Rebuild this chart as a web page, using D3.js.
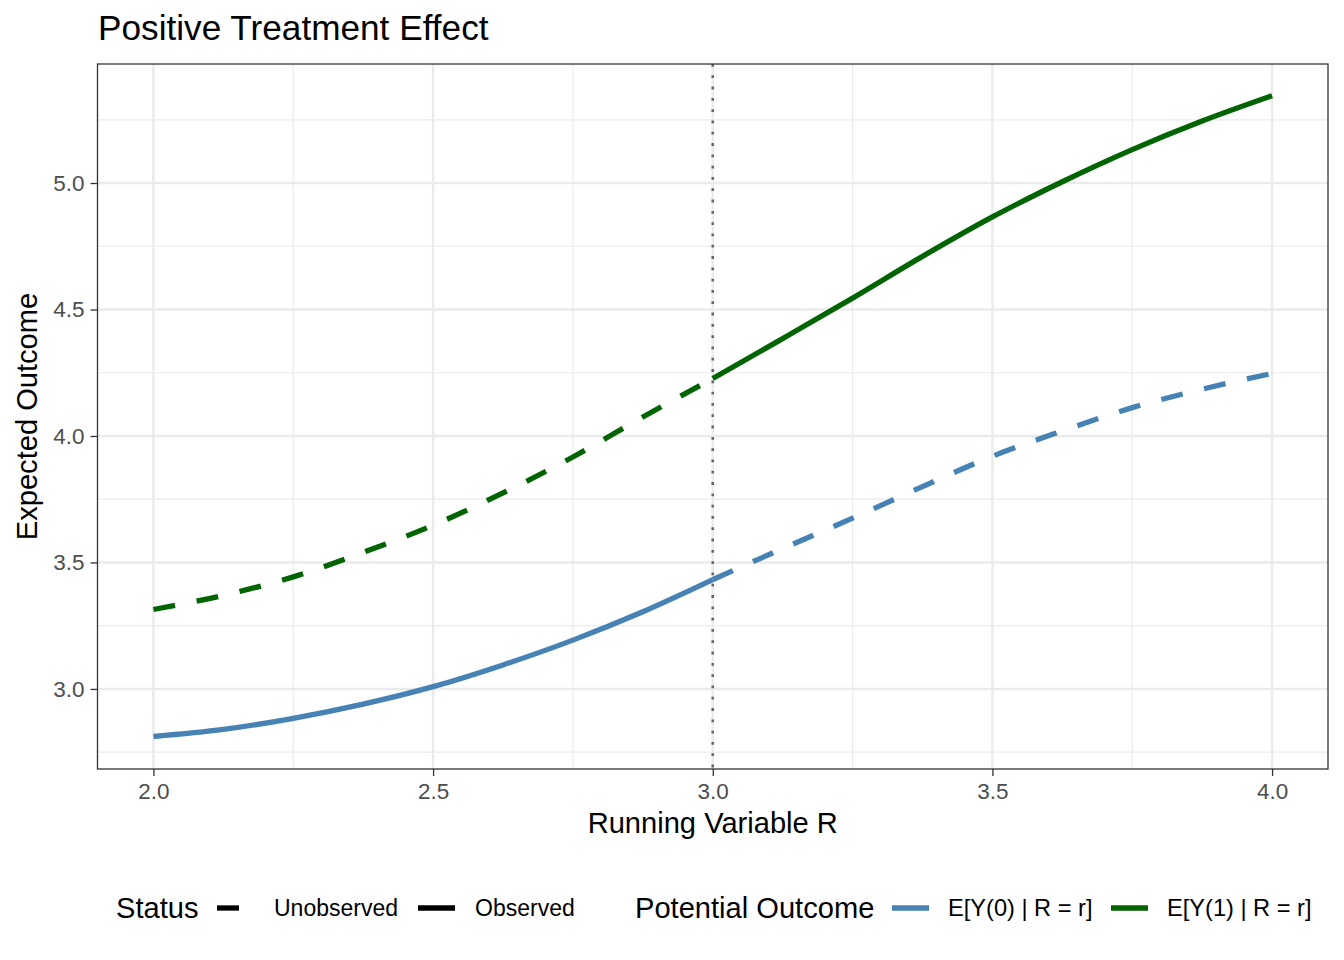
<!DOCTYPE html>
<html>
<head>
<meta charset="utf-8">
<script src="https://cdn.jsdelivr.net/npm/d3@7"></script>
<style>
  body { margin: 0; background: #fff; }
  text { font-family: "Liberation Sans", Arial, Helvetica, sans-serif; }
</style>
</head>
<body>
<div id="chart"></div>
<script>
// values
var rValues  = [2.0, 2.125, 2.25, 2.375, 2.5, 2.625, 2.75, 2.875, 3.0,
                3.125, 3.25, 3.375, 3.5, 3.625, 3.75, 3.875, 4.0]
var y0Values = [2.812, 2.840, 2.884, 2.940, 3.009, 3.095, 3.193, 3.305, 3.432,
                3.555, 3.675, 3.800, 3.920, 4.020, 4.112, 4.185, 4.247]
var y1Values = [3.314, 3.370, 3.443, 3.540, 3.647, 3.775, 3.917, 4.075, 4.227,
                4.385, 4.545, 4.710, 4.866, 5.005, 5.132, 5.245, 5.345]
var cutoff = 3.0
var xTicks = [2.0, 2.5, 3.0, 3.5, 4.0]
var yTicks = [3.0, 3.5, 4.0, 4.5, 5.0]
var outcomeLabels = ["E[Y(0) | R = r]", "E[Y(1) | R = r]"]
var statusLabels = ["Unobserved", "Observed"]

var width = 1344, height = 960
var margin = { top: 64, right: 16, bottom: 191, left: 97.5 }

var svg = d3.select("#chart").append("svg")
  .attr("width", width)
  .attr("height", height)

var x = d3.scaleLinear()
  .domain([1.9, 4.1])
  .range([margin.left, width - margin.right])

var y = d3.scaleLinear()
  .domain([2.6835, 5.4705])
  .range([height - margin.bottom, margin.top])

// grid
var xMinor = [2.25, 2.75, 3.25, 3.75]
var yMinor = [2.75, 3.25, 3.75, 4.25, 4.75, 5.25]

var grid = svg.append("g")
grid.selectAll(".xminor").data(xMinor).enter().append("line")
  .attr("x1", d => x(d)).attr("x2", d => x(d))
  .attr("y1", y.range()[1]).attr("y2", y.range()[0])
  .attr("stroke", "#ebebeb").attr("stroke-width", 1.2)
grid.selectAll(".yminor").data(yMinor).enter().append("line")
  .attr("y1", d => y(d)).attr("y2", d => y(d))
  .attr("x1", x.range()[0]).attr("x2", x.range()[1])
  .attr("stroke", "#ebebeb").attr("stroke-width", 1.2)
grid.selectAll(".xmajor").data(xTicks).enter().append("line")
  .attr("x1", d => x(d)).attr("x2", d => x(d))
  .attr("y1", y.range()[1]).attr("y2", y.range()[0])
  .attr("stroke", "#ebebeb").attr("stroke-width", 2.4)
grid.selectAll(".ymajor").data(yTicks).enter().append("line")
  .attr("y1", d => y(d)).attr("y2", d => y(d))
  .attr("x1", x.range()[0]).attr("x2", x.range()[1])
  .attr("stroke", "#ebebeb").attr("stroke-width", 2.4)

// curves, split at the cutoff
var rows = rValues.map((r, i) => ({ r: r, y0: y0Values[i], y1: y1Values[i] }))
var below = rows.filter(d => d.r <= cutoff)
var above = rows.filter(d => d.r >= cutoff)

var series = [
  { data: below, key: "y0", color: "#4682b4", dashed: false },
  { data: above, key: "y0", color: "#4682b4", dashed: true },
  { data: below, key: "y1", color: "#006400", dashed: true },
  { data: above, key: "y1", color: "#006400", dashed: false }
]

series.forEach(function (s) {
  var line = d3.line()
    .x(d => x(d.r))
    .y(d => y(d[s.key]))
    .curve(d3.curveMonotoneX)
  svg.append("path")
    .datum(s.data)
    .attr("d", line)
    .attr("fill", "none")
    .attr("stroke", s.color)
    .attr("stroke-width", 5.3)
    .attr("stroke-linecap", "butt")
    .attr("stroke-dasharray", s.dashed ? "22,22" : null)
})

// cutoff line
svg.append("line")
  .attr("x1", x(cutoff)).attr("x2", x(cutoff))
  .attr("y1", y.range()[1]).attr("y2", y.range()[0])
  .attr("stroke", "#666")
  .attr("stroke-width", 2.6)
  .attr("stroke-dasharray", "2.8,8.5")

// panel border
svg.append("rect")
  .attr("x", x.range()[0]).attr("y", y.range()[1])
  .attr("width", x.range()[1] - x.range()[0])
  .attr("height", y.range()[0] - y.range()[1])
  .attr("fill", "none")
  .attr("stroke", "#333")
  .attr("stroke-width", 1.3)

// axes
var xAxis = svg.append("g")
  .attr("transform", `translate(0,${y.range()[0]})`)
  .call(d3.axisBottom(x).tickValues(xTicks).tickFormat(d3.format(".1f")).tickSize(7).tickPadding(7))
var yAxis = svg.append("g")
  .attr("transform", `translate(${x.range()[0]},0)`)
  .call(d3.axisLeft(y).tickValues(yTicks).tickFormat(d3.format(".1f")).tickSize(7).tickPadding(6))

;[xAxis, yAxis].forEach(function (a) {
  a.select(".domain").remove()
  a.selectAll(".tick line").attr("stroke", "#333").attr("stroke-width", 1.3)
  a.selectAll(".tick text")
    .attr("fill", "#4d4d4d")
    .style("font-size", "22.5px")
    .style("font-family", "'Liberation Sans', Arial, sans-serif")
})
xAxis.selectAll(".tick text").attr("dy", "0.71em")

// titles
svg.append("text")
  .attr("x", 98).attr("y", 40)
  .style("font-size", "35.2px")
  .text("Positive Treatment Effect")

svg.append("text")
  .attr("x", (x.range()[0] + x.range()[1]) / 2)
  .attr("y", 833)
  .attr("text-anchor", "middle")
  .style("font-size", "29.1px")
  .text("Running Variable R")

svg.append("text")
  .attr("transform", `translate(37,${(y.range()[0] + y.range()[1]) / 2}) rotate(-90)`)
  .attr("text-anchor", "middle")
  .style("font-size", "29.1px")
  .text("Expected Outcome")

// legend
var legY = 908
var legend = svg.append("g")

legend.append("text")
  .attr("x", 116).attr("y", legY + 10)
  .style("font-size", "29.1px")
  .text("Status")

var statusKeys = [
  { x0: 217, tx: 274, dashed: true },
  { x0: 418, tx: 475, dashed: false }
]
legend.selectAll(".statuskey").data(statusKeys).enter().append("line")
  .attr("x1", d => d.x0).attr("x2", d => d.x0 + 37)
  .attr("y1", legY).attr("y2", legY)
  .attr("stroke", "#000")
  .attr("stroke-width", 5.3)
  .attr("stroke-dasharray", d => d.dashed ? "22,22" : null)
legend.selectAll(".statuslab").data(statusLabels).enter().append("text")
  .attr("x", (d, i) => statusKeys[i].tx).attr("y", legY + 8)
  .style("font-size", "23px")
  .text(d => d)

legend.append("text")
  .attr("x", 635).attr("y", legY + 10)
  .style("font-size", "29.1px")
  .text("Potential Outcome")

var outcomeKeys = [
  { x0: 892, tx: 948, color: "#4682b4" },
  { x0: 1111, tx: 1167, color: "#006400" }
]
legend.selectAll(".outkey").data(outcomeKeys).enter().append("line")
  .attr("x1", d => d.x0).attr("x2", d => d.x0 + 37)
  .attr("y1", legY).attr("y2", legY)
  .attr("stroke", d => d.color)
  .attr("stroke-width", 5.3)
legend.selectAll(".outlab").data(outcomeLabels).enter().append("text")
  .attr("x", (d, i) => outcomeKeys[i].tx).attr("y", legY + 8)
  .style("font-size", "23.6px")
  .text(d => d)
</script>
</body>
</html>
